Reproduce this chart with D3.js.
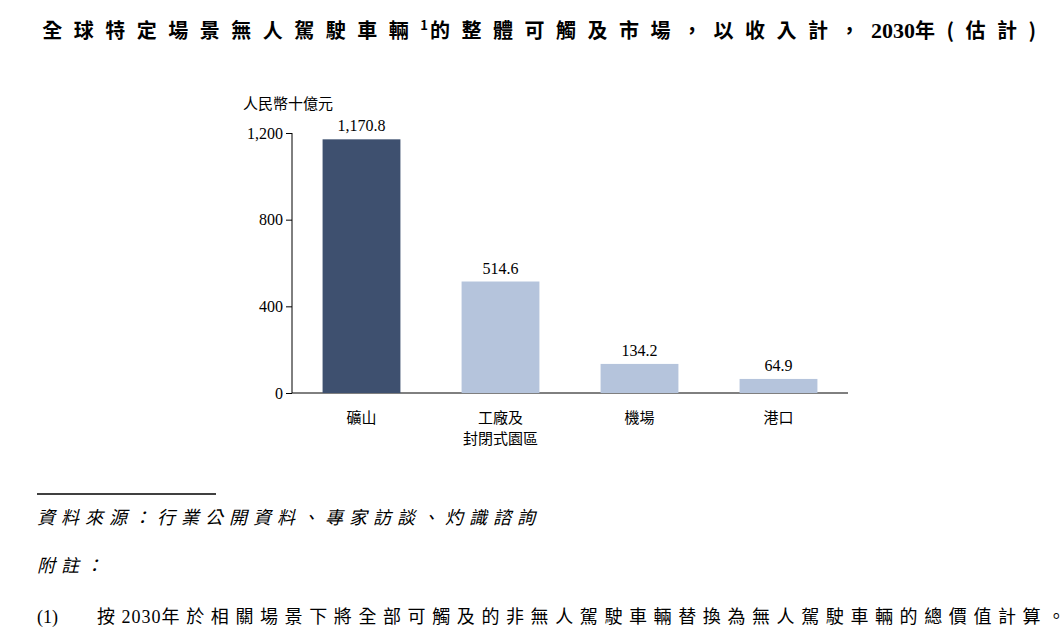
<!DOCTYPE html>
<html><head><meta charset="utf-8">
<script src="https://cdn.jsdelivr.net/npm/d3@7"></script>
<style>body{margin:0;background:#fff}</style>
</head><body><div id="chart-area"></div>
<script>
var categories = [["礦山"], ["工廠及", "封閉式園區"], ["機場"], ["港口"]]
var values = [1170.8, 514.6, 134.2, 64.9]
var colors = ["#3e506f", "#b5c4dc", "#b5c4dc", "#b5c4dc"]
var yTicks = [0, 400, 800, 1200]

var width = 1062, height = 636
var cjk = "'Noto Sans CJK TC', sans-serif", num = "'Liberation Serif', serif"

var svg = d3.select("#chart-area").append("svg")
  .attr("width", width).attr("height", height)

svg.append("text").attr("x", 545).attr("y", 38).attr("text-anchor", "middle")
  .attr("font-family", cjk).attr("font-weight", "bold").attr("font-size", 20)
  .attr("letter-spacing", 11.5)
  .html("全球特定場景無人駕駛車輛<tspan font-size='13' dy='-8' letter-spacing='2'>1</tspan><tspan dy='8'>的整體可觸及市場，以收入計，</tspan><tspan font-family=\"'Liberation Serif', serif\" font-size='22' letter-spacing='0'>2030</tspan>年(估計)")

var x = d3.scaleBand().domain(d3.range(values.length)).range([292, 848])
  .paddingInner(0.44).paddingOuter(0.22)
var y = d3.scaleLinear().domain([0, 1200]).range([393, 133])

var yAxis = svg.append("g").attr("transform", "translate(292,0)")
  .call(d3.axisLeft(y).tickValues(yTicks).tickSize(6).tickFormat(d3.format(",")))
yAxis.selectAll("text").attr("font-family", num).attr("font-size", 16).attr("fill", "#000")
yAxis.selectAll("line,path").attr("stroke", "#000")
yAxis.select("path").attr("d", "M0," + y(1200) + "V" + y(0))

svg.append("line").attr("x1", 292).attr("x2", 848).attr("y1", y(0)).attr("y2", y(0)).attr("stroke", "#000")

svg.append("text").attr("x", 243).attr("y", 109).attr("font-family", cjk)
  .attr("font-size", 15).text("人民幣十億元")

svg.selectAll(".bar").data(values).enter().append("rect")
  .attr("x", function(d, i){ return x(i) }).attr("width", x.bandwidth())
  .attr("y", function(d){ return y(d) }).attr("height", function(d){ return y(0) - y(d) })
  .attr("fill", function(d, i){ return colors[i] })

svg.selectAll(".val").data(values).enter().append("text")
  .attr("x", function(d, i){ return x(i) + x.bandwidth() / 2 })
  .attr("y", function(d){ return y(d) - 8 }).attr("text-anchor", "middle")
  .attr("font-family", num).attr("font-size", 16).text(d3.format(",.1f"))

categories.forEach(function(c, i){
  c.forEach(function(line, j){
    svg.append("text").attr("x", x(i) + x.bandwidth() / 2).attr("y", 423 + j * 21)
      .attr("text-anchor", "middle").attr("font-family", cjk).attr("font-size", 15).text(line)
  })
})

svg.append("line").attr("x1", 37).attr("x2", 216).attr("y1", 494).attr("y2", 494).attr("stroke", "#000").attr("stroke-width", 1.5)
svg.append("text").attr("x", 37).attr("y", 524).attr("font-family", cjk).attr("font-size", 18)
  .attr("font-style", "italic").attr("letter-spacing", 6).text("資料來源：行業公開資料、專家訪談、灼識諮詢")
svg.append("text").attr("x", 37).attr("y", 572).attr("font-family", cjk).attr("font-size", 18)
  .attr("font-style", "italic").attr("letter-spacing", 6).text("附註：")
svg.append("text").attr("x", 37).attr("y", 623).attr("font-family", num).attr("font-size", 18).text("(1)")
svg.append("text").attr("x", 97).attr("y", 623).attr("font-family", cjk).attr("font-size", 18)
  .attr("letter-spacing", 6.6)
  .html("按<tspan font-family=\"'Liberation Serif', serif\" letter-spacing='1'>2030</tspan>年於相關場景下將全部可觸及的非無人駕駛車輛替換為無人駕駛車輛的總價值計算。")
</script></body></html>
